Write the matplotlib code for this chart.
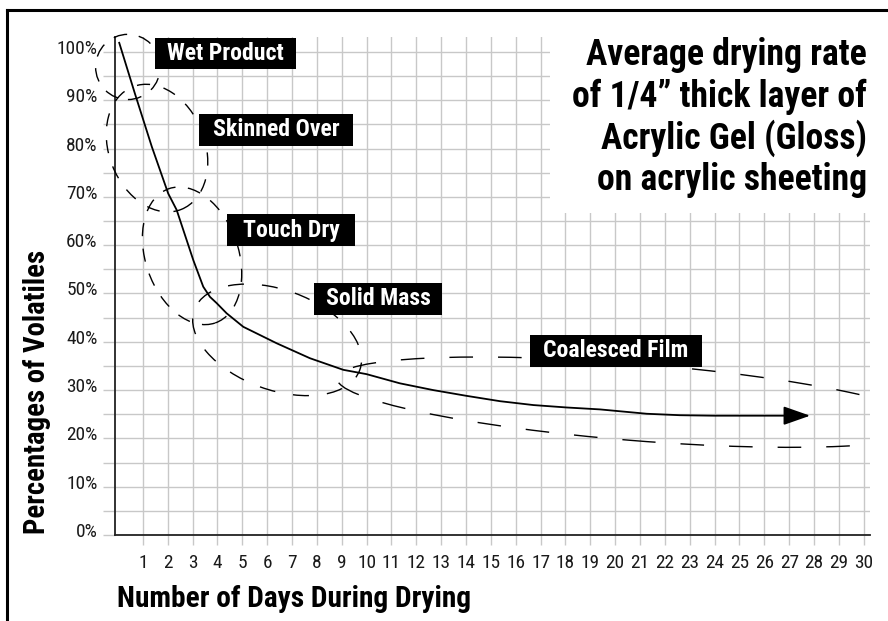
import matplotlib
matplotlib.use("Agg")
import matplotlib.pyplot as plt
from matplotlib.patches import Ellipse, Rectangle
from matplotlib.transforms import Affine2D, ScaledTranslation
from matplotlib.lines import Line2D
from matplotlib import font_manager

# drying curve (days, % volatiles); last point is the arrow tip
DAYS = [0.05, 0.68, 1.36, 2.02, 2.36, 3.03, 3.43, 3.70, 3.97, 4.37, 5.04, 6.38,
        7.72, 9.06, 10.0, 11.34, 12.68, 14.03, 15.37, 16.71, 18.05, 19.39,
        21.27, 22.6, 23.95, 25.29, 26.9, 27.84]
VOLATILES = [101.9, 91.4, 80.4, 70.7, 67.3, 56.9, 51.4, 49.3, 48.0, 45.9, 43.1, 39.7,
             36.6, 34.2, 33.3, 31.4, 30.0, 28.8, 27.7, 26.9, 26.4, 26.0,
             25.1, 24.8, 24.7, 24.7, 24.7, 24.7]

X_TICKS = list(range(1, 31))
Y_TICKS = list(range(0, 101, 10))
Y_TICK_LABELS = [f"{v}%" for v in Y_TICKS]

STAGES = ["Wet Product", "Skinned Over", "Touch Dry", "Solid Mass", "Coalesced Film"]

TITLE_LINES = ["Average drying rate", "of 1/4\u201d thick layer of",
               "Acrylic Gel (Gloss)", "on acrylic sheeting"]
XLABEL = "Number of Days During Drying"
YLABEL = "Percentages of Volatiles"

# stage zones: centre (day, %), width (days), height (%), tilt (deg, screen), dash (on, off) pt, clip
ZONES = [
    (0.40, 96.9, 2.6, 13.5, 0, (10, 8.5), False),
    (1.57, 80.1, 3.86, 27.3, 21.5, (9.5, 10), False),
    (2.98, 57.8, 3.74, 29.4, 19, (9.5, 9), False),
    (6.40, 40.4, 7.08, 20.7, -20, (11.5, 13), False),
    (20.8, 27.5, 24.05, 15.9, -4.6, (17, 18), True),
]
# label boxes: centre (day, %), width (days), height (%)
LABEL_BOXES = [
    (4.32, 99.7, 5.67, 6.4),
    (6.36, 83.85, 6.19, 6.6),
    (6.96, 63.1, 5.15, 6.6),
    (10.46, 48.9, 5.15, 6.6),
    (20.03, 38.1, 6.92, 6.6),
]


def pick_family(candidates):
    bold = {f.name for f in font_manager.fontManager.ttflist
            if str(f.weight) in ("700", "bold")}
    for name in candidates:
        if name in bold:
            return name
    return "DejaVu Sans"


FAMILY = pick_family(["Nimbus Sans Narrow", "Liberation Sans Narrow", "Roboto Condensed",
                      "IBM Plex Sans Condensed", "Archivo Narrow", "DejaVu Sans"])
plt.rcParams["font.family"] = [FAMILY, "DejaVu Sans"]
plt.rcParams["font.stretch"] = "condensed"
plt.rcParams["lines.scale_dashes"] = False

W, H = 888, 621
fig = plt.figure(figsize=(W / 100, H / 100), dpi=100)
renderer = fig.canvas.get_renderer()


def fitted_size(text, target_px, weight="normal", size=20.0, rotation=0):
    t = fig.text(0, 0, text, fontsize=size, fontweight=weight, rotation=rotation)
    ext = t.get_window_extent(renderer)
    t.remove()
    span = ext.height if rotation else ext.width
    return size * target_px / span


ax = fig.add_axes([115 / W, 1 - 535 / H, (870 - 115) / W, (535 - 37) / H])
ax.set_xlim(-0.12, 30.25)
ax.set_ylim(0, 103.1)

tick_size = fitted_size("100%", 41)
ax.set_xticks(X_TICKS)
ax.set_xticklabels([str(t) for t in X_TICKS], fontsize=tick_size)
ax.set_yticks(Y_TICKS)
ax.set_yticklabels(Y_TICK_LABELS, fontsize=tick_size)
ax.set_yticks(list(range(5, 101, 10)), minor=True)
ax.tick_params(axis="both", which="both", direction="out", color="#c8c8c8", width=1.0,
               labelcolor="#1a1a1a")
ax.tick_params(axis="x", length=7.5, pad=6.5)
ax.tick_params(axis="y", which="both", length=8.5, pad=4)
ax.grid(True, which="both", color="#c8c8c8", lw=1.0)
ax.set_axisbelow(True)
for lab in ax.get_yticklabels():
    lab.set_transform(lab.get_transform() + ScaledTranslation(0, 5 / 100, fig.dpi_scale_trans))

for side in ["top", "right"]:
    ax.spines[side].set_visible(False)
for side in ["left", "bottom"]:
    ax.spines[side].set_color("#222222")
    ax.spines[side].set_linewidth(1.3)

# white patch under the title cuts the grid
ax.add_patch(Rectangle((17.38, 66.7), 14, 40, facecolor="white", edgecolor="none",
                       zorder=1, clip_on=False))

ax.plot(DAYS[:-1], VOLATILES[:-1], color="black", lw=1.3, zorder=3)
ax.annotate("", xy=(DAYS[-1], VOLATILES[-1]), xytext=(DAYS[-2], VOLATILES[-2]),
            arrowprops=dict(arrowstyle="-|>,head_length=1.65,head_width=0.58",
                            mutation_scale=10, color="black", lw=1.3,
                            shrinkA=0, shrinkB=0), zorder=3)

for cx, cy, w, h, angle, dash, clip in ZONES:
    e = Ellipse((cx, cy), w, h, fill=False, ec="black", lw=1.0, linestyle=(0, dash),
                zorder=3, clip_on=clip)
    px, py = ax.transData.transform((cx, cy))
    e.set_transform(ax.transData + Affine2D().rotate_deg_around(px, py, angle))
    ax.add_patch(e)

label_size = fitted_size("Coalesced Film", 145, weight="bold")
for name, (cx, cy, w, h) in zip(STAGES, LABEL_BOXES):
    ax.add_patch(Rectangle((cx - w / 2, cy - h / 2), w, h, facecolor="black",
                           edgecolor="none", zorder=4, clip_on=False))
    ax.text(cx, cy, name, color="white", fontsize=label_size, fontweight="bold",
            ha="center", va="center", zorder=5)

title_size = fitted_size(TITLE_LINES[0], 280, weight="bold")
for i, line in enumerate(TITLE_LINES):
    fig.text(867 / W, 1 - (65 + 41.7 * i) / H, line, ha="right", va="baseline",
             fontsize=title_size, fontweight="bold")

fig.text(117 / W, 1 - 607 / H, XLABEL, ha="left", va="baseline",
         fontsize=fitted_size(XLABEL, 354, weight="bold"), fontweight="bold")
fig.text(37 / W, 1 - 392 / H, YLABEL, ha="center", va="center", rotation=90,
         fontsize=fitted_size(YLABEL, 283, weight="bold", rotation=90), fontweight="bold")

# frame: left and top edges only
fig.add_artist(Line2D([7 / W, 7 / W], [0, 1 - 10 / H], color="black", lw=2.2))
fig.add_artist(Line2D([7 / W, 1], [1 - 10 / H, 1 - 10 / H], color="black", lw=2.2))

fig.savefig("out.png", dpi=100)
